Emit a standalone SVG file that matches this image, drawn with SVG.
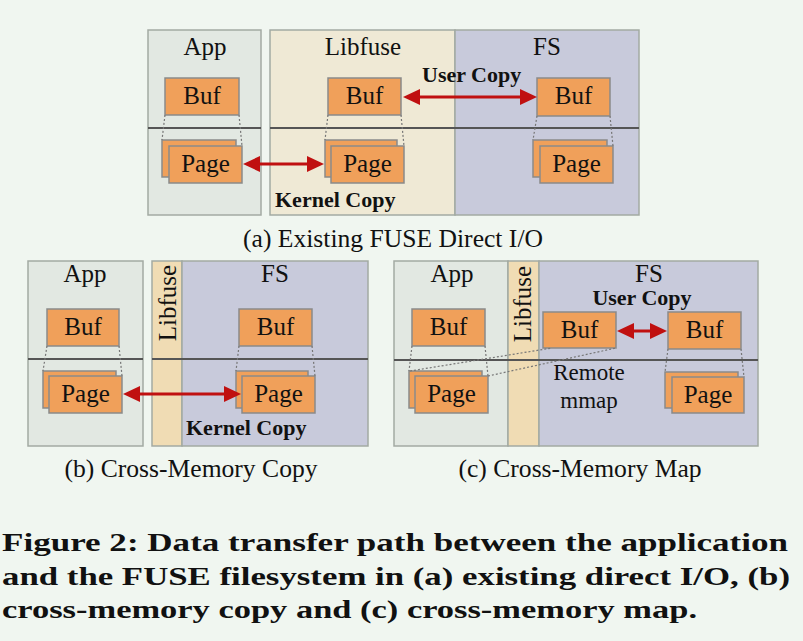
<svg xmlns="http://www.w3.org/2000/svg" width="803" height="641" viewBox="0 0 803 641">
<defs>
<marker id="ah" markerUnits="userSpaceOnUse" markerWidth="17" markerHeight="16" viewBox="0 0 17 16" refX="10" refY="8" orient="auto-start-reverse">
<path d="M0,0 L17,8 L0,16 z" fill="#c01010"/>
</marker>
<style>
.app{fill:#e2e8e2;stroke:#a3aaa3;stroke-width:1.5}
.lib{fill:#efe9d5;stroke:#a3aaa3;stroke-width:1.5}
.lib2{fill:#f0dcb4;stroke:#a3aaa3;stroke-width:1.5}
.fs{fill:#c8cadb;stroke:#a3aaa3;stroke-width:1.5}
.box{fill:#f0a05a;stroke:#8a8a8a;stroke-width:1.5}
.sep{stroke:#555;stroke-width:2;fill:none}
.dot{stroke:#777;stroke-width:1.2;stroke-dasharray:2,2;fill:none}
.arr{stroke:#c01010;stroke-width:3;fill:none;marker-start:url(#ah);marker-end:url(#ah)}
.t{font-family:"Liberation Serif","Times New Roman",serif;font-size:25px;fill:#111;text-anchor:middle}
.sub{font-size:25.6px}
.b{font-family:"Liberation Serif","Times New Roman",serif;font-size:22px;font-weight:bold;fill:#111}
.cap{font-family:"Liberation Serif","Times New Roman",serif;font-size:26px;font-weight:bold;fill:#111}
</style>
</defs>
<rect width="803" height="641" fill="#f0f6f0"/>

<!-- Panel (a) -->
<g id="a-app">
<rect class="app" x="148" y="30" width="113" height="185"/>
<text class="t" x="205" y="55">App</text>
</g>
<g id="a-libfuse">
<rect class="lib" x="270" y="30" width="185" height="185"/>
<text class="t" x="363" y="55">Libfuse</text>
</g>
<g id="a-fs">
<rect class="fs" x="455" y="30" width="184" height="185"/>
<text class="t" x="547" y="55">FS</text>
</g>
<g id="a-seps">
<line class="sep" x1="148" y1="128" x2="261" y2="128"/>
<line class="sep" x1="270" y1="128" x2="639" y2="128"/>
</g>
<g id="a-app-buf"><rect class="box" x="165" y="78" width="74" height="37"/><text class="t" x="202" y="104">Buf</text></g>
<g id="a-app-page"><rect class="box" x="162" y="140" width="74" height="37"/><rect class="box" x="169" y="146" width="73" height="37"/><text class="t" x="205.5" y="172">Page</text></g>
<g id="a-lib-buf"><rect class="box" x="328" y="78" width="73" height="37"/><text class="t" x="364.5" y="104">Buf</text></g>
<g id="a-lib-page"><rect class="box" x="325" y="140" width="72" height="37"/><rect class="box" x="331" y="146" width="73" height="37"/><text class="t" x="367.5" y="172">Page</text></g>
<g id="a-fs-buf"><rect class="box" x="537" y="78" width="73" height="38"/><text class="t" x="573.5" y="104">Buf</text></g>
<g id="a-fs-page"><rect class="box" x="533" y="140" width="74" height="37"/><rect class="box" x="540" y="146" width="73" height="37"/><text class="t" x="576.5" y="172">Page</text></g>

<!-- Panel (b) -->
<g id="b-app">
<rect class="app" x="28" y="261" width="115" height="185"/>
<text class="t" x="85" y="282">App</text>
</g>
<g id="b-libfuse">
<rect class="lib2" x="152" y="261" width="30" height="185"/>
<text class="t" transform="translate(176,303) rotate(-90)">Libfuse</text>
</g>
<g id="b-fs">
<rect class="fs" x="182" y="261" width="186" height="185"/>
<text class="t" x="275" y="282">FS</text>
</g>
<g id="b-seps">
<line class="sep" x1="28" y1="359" x2="143" y2="359"/>
<line class="sep" x1="152" y1="359" x2="368" y2="359"/>
</g>
<g id="b-app-buf"><rect class="box" x="47" y="309" width="72" height="37"/><text class="t" x="83" y="335">Buf</text></g>
<g id="b-app-page"><rect class="box" x="43" y="371" width="73" height="37"/><rect class="box" x="49" y="376" width="73" height="37"/><text class="t" x="85.5" y="402">Page</text></g>
<g id="b-fs-buf"><rect class="box" x="239" y="309" width="73" height="37"/><text class="t" x="275.5" y="335">Buf</text></g>
<g id="b-fs-page"><rect class="box" x="236" y="371" width="72" height="37"/><rect class="box" x="242" y="376" width="73" height="37"/><text class="t" x="278.5" y="402">Page</text></g>

<!-- Panel (c) -->
<g id="c-app">
<rect class="app" x="394" y="261" width="114" height="185"/>
<text class="t" x="452" y="282">App</text>
</g>
<g id="c-libfuse">
<rect class="lib2" x="508" y="261" width="31" height="185"/>
<text class="t" transform="translate(531,304) rotate(-90)">Libfuse</text>
</g>
<g id="c-fs">
<rect class="fs" x="539" y="261" width="219" height="185"/>
<text class="t" x="649" y="282">FS</text>
</g>
<g id="c-seps">
<line class="sep" x1="394" y1="360" x2="758" y2="360"/>
</g>
<g id="c-app-buf"><rect class="box" x="412" y="309" width="73" height="37"/><text class="t" x="448.5" y="335">Buf</text></g>
<g id="c-app-page"><rect class="box" x="409" y="371" width="73" height="37"/><rect class="box" x="415" y="376" width="73" height="37"/><text class="t" x="451.5" y="402">Page</text></g>
<g id="c-fs-buf1"><rect class="box" x="543" y="312" width="73" height="36"/><text class="t" x="579.5" y="338">Buf</text></g>
<g id="c-fs-buf2"><rect class="box" x="668" y="312" width="73" height="37"/><text class="t" x="704.5" y="338">Buf</text></g>
<g id="c-fs-page"><rect class="box" x="665" y="372" width="73" height="36"/><rect class="box" x="672" y="377" width="72" height="36"/><text class="t" x="708" y="403">Page</text></g>

<!-- Connectors -->
<g id="connectors">
<line class="dot" x1="165" y1="115" x2="162" y2="140"/>
<line class="dot" x1="239" y1="115" x2="242" y2="146"/>
<line class="dot" x1="328" y1="115" x2="325" y2="140"/>
<line class="dot" x1="401" y1="115" x2="404" y2="146"/>
<line class="dot" x1="537" y1="116" x2="533" y2="140"/>
<line class="dot" x1="610" y1="116" x2="613" y2="146"/>
<line class="dot" x1="47" y1="346" x2="43" y2="371"/>
<line class="dot" x1="119" y1="346" x2="122" y2="376"/>
<line class="dot" x1="239" y1="346" x2="236" y2="371"/>
<line class="dot" x1="312" y1="346" x2="315" y2="376"/>
<line class="dot" x1="412" y1="346" x2="409" y2="371"/>
<line class="dot" x1="485" y1="346" x2="488" y2="376"/>
<line class="dot" x1="410" y1="371" x2="552" y2="348"/>
<line class="dot" x1="488" y1="376" x2="616" y2="348"/>
<line class="dot" x1="668" y1="349" x2="665" y2="372"/>
<line class="dot" x1="741" y1="349" x2="744" y2="377"/>
<line class="arr" x1="250" y1="164" x2="317" y2="164"/>
<line class="arr" x1="410" y1="97" x2="530" y2="97"/>
<line class="arr" x1="130" y1="394" x2="234" y2="394"/>
<line class="arr" x1="624" y1="331" x2="660" y2="331"/>
</g>

<!-- Labels -->
<text class="b" x="422" y="82">User Copy</text>
<text class="b" x="275" y="207">Kernel Copy</text>
<text class="b" x="186" y="435">Kernel Copy</text>
<text class="b" x="642" y="305" text-anchor="middle">User Copy</text>
<text class="t" x="589" y="380" style="font-size:23px">Remote</text>
<text class="t" x="589" y="408" style="font-size:23px">mmap</text>

<text class="t sub" x="393" y="247">(a) Existing FUSE Direct I/O</text>
<text class="t sub" x="191" y="477">(b) Cross-Memory Copy</text>
<text class="t sub" x="580" y="477">(c) Cross-Memory Map</text>

<text class="cap" x="2" y="551" textLength="786" lengthAdjust="spacingAndGlyphs">Figure 2: Data transfer path between the application</text>
<text class="cap" x="2" y="585" textLength="788" lengthAdjust="spacingAndGlyphs">and the FUSE filesystem in (a) existing direct I/O, (b)</text>
<text class="cap" x="2" y="618" textLength="695" lengthAdjust="spacingAndGlyphs">cross-memory copy and (c) cross-memory map.</text>
</svg>
